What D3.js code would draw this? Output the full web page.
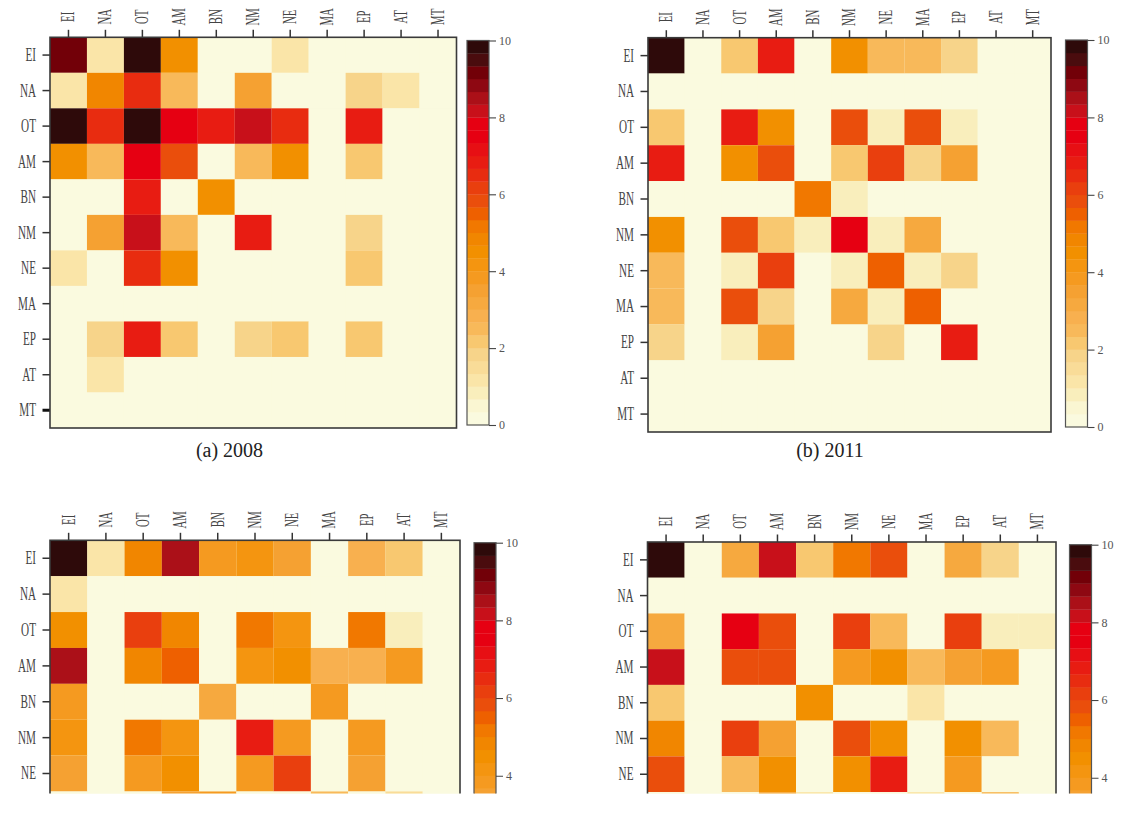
<!DOCTYPE html>
<html>
<head>
<meta charset="utf-8">
<script src="https://d3js.org/d3.v7.min.js"></script>
<style>
body { margin: 0; background: #fff; }
svg { display: block; }
text { font-family: "Liberation Serif", serif; }
</style>
</head>
<body>
<div id="graph"></div>
<script>
var codes = ["EI","NA","OT","AM","BN","NM","NE","MA","EP","AT","MT"];
var barTicks = [0,2,4,6,8,10];

// colour key, low to high, 30 steps
var palette = ["#fafadf","#faf6d2","#f9eebc","#fae5a8","#f9dc98","#f7d48a",
  "#f8c870","#f8b95a","#f8b04f","#f6a93f","#f5a132","#f59a20",
  "#f49510","#f29000","#f18600","#f17800","#ee6000","#ea4e0c",
  "#e93f0e","#e82c10","#e81c12","#e70f14","#e60012","#e60012",
  "#c8101a","#ab1018","#8e0812","#720008","#4a0c0e","#2e0a0a"];

var values2008 = [
  [9.2,1.2,10,4.5,0,0,1.2,0,0,0,0],
  [1.2,4.9,6.5,2.5,0,3.5,0,0,1.8,1.2,0],
  [10,6.5,10,7.8,6.8,8.2,6.5,0,6.8,0,0],
  [4.5,2.5,7.8,5.8,0,2.5,4.5,0,2.1,0,0],
  [0,0,6.8,0,4.5,0,0,0,0,0,0],
  [0,3.5,8.2,2.5,0,6.8,0,0,1.8,0,0],
  [1.2,0,6.5,4.5,0,0,0,0,2.2,0,0],
  [0,0,0,0,0,0,0,0,0,0,0],
  [0,1.8,6.8,2.1,0,1.8,2.2,0,2.1,0,0],
  [0,1.2,0,0,0,0,0,0,0,0,0],
  [0,0,0,0,0,0,0,0,0,0,0]
];
var values2011 = [
  [10,0,2.2,6.8,0,4.5,2.5,2.5,1.8,0,0],
  [0,0,0,0,0,0,0,0,0,0,0],
  [2.2,0,6.8,4.5,0,5.8,0.9,5.8,0.9,0,0],
  [6.8,0,4.5,5.8,0,2.3,6.1,1.8,3.5,0,0],
  [0,0,0,0,5.1,0.9,0,0,0,0,0],
  [4.5,0,5.8,2.2,0.9,7.7,0.9,3.2,0,0,0],
  [2.5,0,0.9,6.1,0,0.9,5.5,0.9,1.8,0,0],
  [2.5,0,5.8,1.8,0,3.2,0.9,5.5,0,0,0],
  [1.8,0,0.9,3.5,0,0,1.8,0,6.8,0,0],
  [0,0,0,0,0,0,0,0,0,0,0],
  [0,0,0,0,0,0,0,0,0,0,0]
];
// the picture is cut off below the MA row in the lower two panels
var valuesLowerLeft = [
  [10,1.2,4.8,8.5,3.9,4.2,3.5,0,2.8,2.1,0],
  [1.2,0,0,0,0,0,0,0,0,0,0],
  [4.5,0,6.2,4.8,0,5.1,4,0,5.1,0.9,0],
  [8.5,0,4.7,5.5,0,4.3,4.6,2.8,2.8,3.9,0],
  [3.9,0,0,0,3.2,0,0,3.7,0,0,0],
  [4.2,0,5.1,4.3,0,6.8,3.9,0,3.9,0,0],
  [3.6,0,3.9,4.6,0,3.9,6.1,0,3.4,0,0],
  [0,0,0,3.4,3.9,0,0,2.4,0,1.6,0]
];
var valuesLowerRight = [
  [10,0,3.2,8.2,2.1,5.1,5.8,0,3.2,1.8,0],
  [0,0,0,0,0,0,0,0,0,0,0],
  [3.2,0,7.8,5.8,0,6.1,2.5,0,6.1,0.9,0.9],
  [8.2,0,5.8,5.8,0,3.7,4.4,2.5,3.6,3.9,0],
  [2.1,0,0,0,4.4,0,0,1.2,0,0,0],
  [4.8,0,6.1,3.6,0,5.8,4.4,0,4.4,2.4,0],
  [5.8,0,2.5,4.4,0,4.4,6.8,0,3.9,0,0],
  [0,0,0,3,1.2,0,0,1.2,0,2.4,0]
];

var WIDTH = 1133, HEIGHT = 834, CUT_Y = 793.5;
var AXIS_COLOR = "#333";

var svg = d3.select("#graph").append("svg")
  .attr("width", WIDTH)
  .attr("height", HEIGHT);

svg.append("clipPath").attr("id", "pageCut")
  .append("rect").attr("x", 0).attr("y", 0).attr("width", WIDTH).attr("height", CUT_Y);

var colorScale = d3.scaleQuantize().domain([0, 10]).range(palette);

function drawPanel(cfg) {
  var g = svg.append("g").attr("clip-path", "url(#pageCut)");

  var x = d3.scaleBand().domain(codes).range([cfg.left, cfg.right]);
  var y = d3.scaleBand().domain(codes).range([cfg.top, cfg.bottom]);

  g.append("rect")
    .attr("x", cfg.left).attr("y", cfg.top)
    .attr("width", cfg.right - cfg.left).attr("height", cfg.bottom - cfg.top)
    .attr("fill", palette[0]);

  cfg.values.forEach(function(row, r) {
    g.selectAll(null).data(row).enter().append("rect")
      .attr("x", function(d, c) { return x(codes[c]); })
      .attr("y", y(codes[r]))
      .attr("width", x.bandwidth())
      .attr("height", y.bandwidth())
      .attr("fill", function(d) { return colorScale(d); });
  });

  // only ticks that land above the cut
  var rowTicks = codes.filter(function(c) { return y(c) + y.bandwidth() / 2 < CUT_Y; });

  var top = g.append("g").attr("transform", "translate(0," + cfg.top + ")")
    .call(d3.axisTop(x).tickSize(7.5).tickSizeOuter(0));
  var left = g.append("g").attr("transform", "translate(" + cfg.left + ",0)")
    .call(d3.axisLeft(y).tickValues(rowTicks).tickSize(7.5).tickSizeOuter(0));

  [top, left].forEach(function(a) {
    a.select(".domain").remove();
    a.selectAll("line").attr("stroke", AXIS_COLOR).attr("stroke-width", 1.5);
    a.selectAll("text").attr("fill", "#444");
  });

  // labels are narrow in the original, so squeeze them sideways
  top.selectAll("text")
    .attr("x", 0).attr("y", 0).attr("dy", ".33em")
    .attr("text-anchor", "middle")
    .attr("font-size", 18)
    .attr("transform", "translate(0,-20.5) rotate(-90) scale(.6,1)");
  left.selectAll("text")
    .attr("x", 0).attr("y", 0).attr("dy", ".33em")
    .attr("text-anchor", "end")
    .attr("font-size", 18)
    .attr("transform", "translate(-14,0) scale(.62,1)");

  if (cfg.thickTick) {
    left.selectAll(".tick").filter(function(d) { return d == cfg.thickTick; })
      .select("line").attr("stroke-width", 3).attr("stroke", "#111");
  }

  g.append("rect")
    .attr("x", cfg.left).attr("y", cfg.top)
    .attr("width", cfg.right - cfg.left).attr("height", cfg.bottom - cfg.top)
    .attr("fill", "none").attr("stroke", "#3a3a3a").attr("stroke-width", 1.6);

  // colour bar
  var bar = d3.scaleLinear().domain([0, 10]).range([cfg.barBottom, cfg.barTop]);
  var step = 10 / palette.length;
  g.selectAll(null).data(palette).enter().append("rect")
    .attr("x", cfg.barLeft)
    .attr("y", function(d, i) { return bar((i + 1) * step); })
    .attr("width", cfg.barRight - cfg.barLeft)
    .attr("height", function(d, i) { return bar(i * step) - bar((i + 1) * step) + 0.3; })
    .attr("fill", function(d) { return d; });

  g.append("rect")
    .attr("x", cfg.barLeft).attr("y", cfg.barTop)
    .attr("width", cfg.barRight - cfg.barLeft).attr("height", cfg.barBottom - cfg.barTop)
    .attr("fill", "none").attr("stroke", "#555").attr("stroke-width", 1.2);

  var shownBarTicks = barTicks.filter(function(t) { return bar(t) < CUT_Y; });
  var barAxis = g.append("g").attr("transform", "translate(" + cfg.barRight + ",0)")
    .call(d3.axisRight(bar).tickValues(shownBarTicks).tickSize(7).tickPadding(3).tickSizeOuter(0));
  barAxis.select(".domain").remove();
  barAxis.selectAll("line").attr("stroke", "#444").attr("stroke-width", 1.1);
  barAxis.selectAll("text").attr("font-size", 12).attr("fill", "#555");

  if (cfg.caption) {
    g.append("text")
      .attr("x", cfg.captionX).attr("y", cfg.captionY)
      .attr("text-anchor", "middle")
      .attr("font-size", 20)
      .attr("fill", "#222")
      .text(cfg.caption);
  }
}

drawPanel({ values: values2008, left: 50, right: 456.5, top: 37.3, bottom: 428,
  barLeft: 467, barRight: 489, barTop: 40.5, barBottom: 425,
  caption: "(a) 2008", captionX: 229.5, captionY: 457, thickTick: "MT" });
drawPanel({ values: values2011, left: 648, right: 1051, top: 37.7, bottom: 432,
  barLeft: 1065.5, barRight: 1087.5, barTop: 40, barBottom: 427,
  caption: "(b) 2011", captionX: 830, captionY: 457 });
drawPanel({ values: valuesLowerLeft, left: 50, right: 460, top: 540.3, bottom: 935,
  barLeft: 474, barRight: 496, barTop: 542.7, barBottom: 931 });
drawPanel({ values: valuesLowerRight, left: 647.5, right: 1056, top: 542, bottom: 935,
  barLeft: 1069.5, barRight: 1091.5, barTop: 544.7, barBottom: 933 });
</script>
</body>
</html>
